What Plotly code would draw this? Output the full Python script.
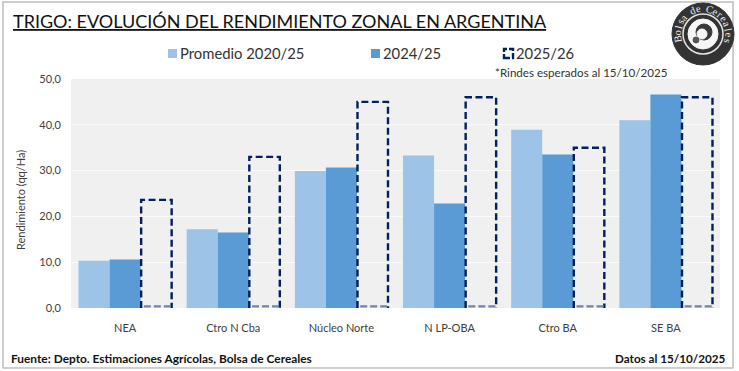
import math
import plotly.graph_objects as go

categories = ["NEA", "Ctro N Cba", "Núcleo Norte", "N LP-OBA", "Ctro BA", "SE BA"]
promedio = [10.3, 17.2, 29.9, 33.3, 38.9, 41.0]
campana_2425 = [10.6, 16.5, 30.7, 22.8, 33.5, 46.6]
campana_2526 = [23.6, 33.0, 45.0, 46.0, 35.0, 46.0]
y_ticks = [0, 10, 20, 30, 40, 50]
y_labels = ["0,0", "10,0", "20,0", "30,0", "40,0", "50,0"]

W, H = 739, 371
L, R, T, B = 71, 720, 79, 308
FONT = "Lato, Carlito, Open Sans, sans-serif"
LIGHT, MID, NAVY = "#9dc3e6", "#5b9bd5", "#002060"

fig = go.Figure()
x = list(range(len(categories)))
bw = 0.287
fig.add_bar(x=x, y=promedio, name="Promedio 2020/25", marker_color=LIGHT, marker_line_width=0, width=bw, offset=-1.5 * bw, showlegend=False)
fig.add_bar(x=x, y=campana_2425, name="2024/25", marker_color=MID, marker_line_width=0, width=bw, offset=-0.5 * bw, showlegend=False)

# dashed outline for the 2025/26 bars (plotly bars have no dashed border)
dx, dy = [], []
for i, v in enumerate(campana_2526):
    a, b = i + 0.5 * bw + 0.005, i + 1.5 * bw
    dx += [a, a, b, b, None]
    dy += [0, v, v, 0, None]
fig.add_scatter(x=dx, y=dy, mode="lines", name="2025/26", showlegend=False,
                line=dict(color=NAVY, width=2.4, dash="7px,3.5px"), hoverinfo="skip")
bx, by = [], []
for i in x:
    bx += [i + 0.5 * bw + 0.03, i + 1.5 * bw, None]
    by += [0.35, 0.35, None]
fig.add_scatter(x=bx, y=by, mode="lines", showlegend=False, hoverinfo="skip",
                line=dict(color="#6f83ad", width=2.2, dash="7px,3px"))

def px(xp):
    return (xp - L) / (R - L)
def py(yp):
    return (B - yp) / (B - T)

shapes = [
    dict(type="rect", xref="paper", yref="paper", x0=px(3), x1=px(733), y0=py(368), y1=py(2),
         line=dict(color="#bfbfbf", width=1.5), fillcolor="rgba(0,0,0,0)"),
    dict(type="rect", xref="paper", yref="paper", x0=px(168), x1=px(177), y0=py(58), y1=py(49),
         fillcolor=LIGHT, line=dict(width=0)),
    dict(type="rect", xref="paper", yref="paper", x0=px(371), x1=px(380), y0=py(58), y1=py(49),
         fillcolor=MID, line=dict(width=0)),
    dict(type="rect", xref="paper", yref="paper", x0=px(504), x1=px(513), y0=py(58), y1=py(49),
         fillcolor="rgba(0,0,0,0)", line=dict(color=NAVY, width=2.4, dash="6px,2px")),
]
# logo
cx, cy = 703, 34
def circ(r, fill, line=None, w=1, ox=0, oy=0):
    shapes.append(dict(type="circle", xref="paper", yref="paper",
                       x0=px(cx + ox - r), x1=px(cx + ox + r), y0=py(cy + oy + r), y1=py(cy + oy - r),
                       fillcolor=fill, line=dict(color=line or fill, width=w)))
circ(31, "#333333")
circ(20, "#333333", "#e6e6e6", 1.5)
circ(15, "#f6f6f6")
circ(8, "#3a3a3a", ox=1, oy=-2)
circ(5, "#f6f6f6", ox=-1, oy=0)
circ(3, "#555555", ox=-7, oy=6)

ann = []
def text(xp, yp, s, size, anchor="left", color="#222222", bold=False, family=FONT, angle=0):
    ann.append(dict(x=px(xp), y=py(yp), xref="paper", yref="paper", xanchor=anchor, yanchor="middle",
                    text=f"<b>{s}</b>" if bold else s, showarrow=False, borderpad=0, textangle=angle,
                    font=dict(family=family, size=size, color=color)))

text(12, 21, "<u>TRIGO: EVOLUCIÓN DEL RENDIMIENTO ZONAL EN ARGENTINA</u>", 18, color="#111111")
text(179, 53, "Promedio 2020/25", 14.8, color="#333333")
text(382, 53, "2024/25", 14.8, color="#333333")
text(515, 53, "2025/26", 14.8, color="#333333")
text(494, 72, "*Rindes esperados al 15/10/2025", 11.6, color="#333333")
text(10, 358, "Fuente: Depto. Estimaciones Agrícolas, Bolsa de Cereales", 11.9, color="#111111", bold=True)
text(727, 358, "Datos al 15/10/2025", 11.7, anchor="right", color="#111111", bold=True)
text(20, 200, "Rendimiento (qq/Ha)", 11, anchor="center", color="#404040", angle=-90)

logo_text = "Bolsa de Cereales"
n = len(logo_text)
for i, ch in enumerate(logo_text):
    ang = -100 + 205 * i / (n - 1)
    rad = math.radians(ang)
    text(cx + 25.5 * math.sin(rad), cy - 25.5 * math.cos(rad), ch, 10.5, anchor="center",
         color="#f0f0f0", family="Liberation Serif", angle=ang)

fig.update_layout(
    width=W, height=H, autosize=False,
    margin=dict(l=L, r=W - R, t=T, b=H - B, pad=0),
    paper_bgcolor="white", plot_bgcolor="#f0f0f0",
    barmode="overlay", shapes=shapes, annotations=ann, showlegend=False,
    font=dict(family=FONT, size=11, color="#404040"),
    xaxis=dict(range=[-0.5, 5.5], tickvals=x, ticktext=categories, showgrid=False, zeroline=False, automargin=False,
               ticks="", ticklabelstandoff=12, tickfont=dict(size=11, color="#404040"), fixedrange=True),
    yaxis=dict(range=[0, 50], tickvals=y_ticks, ticktext=y_labels, gridcolor="#fbfbfb", gridwidth=1, automargin=False,
               zeroline=False, ticks="", ticklabelstandoff=9, tickfont=dict(size=11, color="#404040"),
               fixedrange=True),
)
fig.write_html("out.html", config={"displayModeBar": False},
               post_script="document.body.style.margin='0';")
